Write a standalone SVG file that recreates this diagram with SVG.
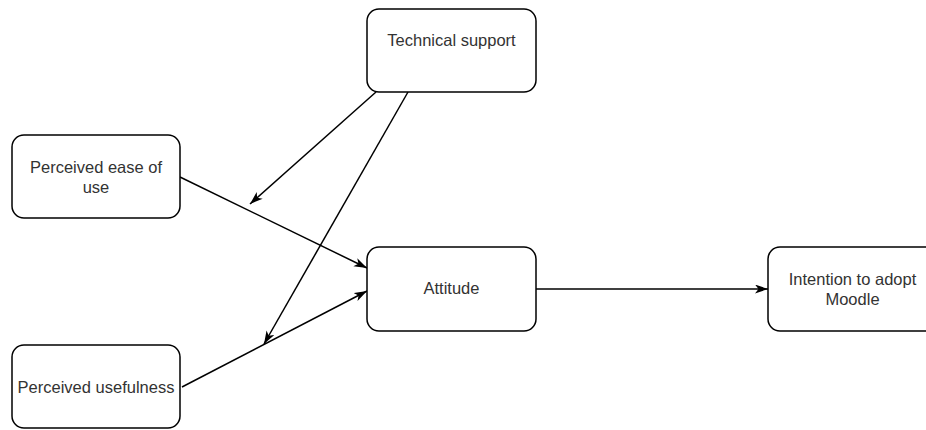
<svg xmlns="http://www.w3.org/2000/svg" width="926" height="430" viewBox="0 0 926 430">
<style>
.box{fill:#ffffff;stroke:#000000;stroke-width:1.5}
.lbl{font-family:"Liberation Sans",Arial,sans-serif;font-size:16.5px;fill:#333333;text-anchor:middle}
.edge{stroke:#000000;stroke-width:1.5;fill:none}
</style>
<defs>
<marker id="arr" markerUnits="userSpaceOnUse" markerWidth="14" markerHeight="10" refX="13" refY="4.5" orient="auto">
<path d="M0,0 L13,4.5 L0,9 L3.5,4.5 z" fill="#000000"/>
</marker>
</defs>
<rect width="926" height="430" fill="#ffffff"/>
<g id="connectors">
<line class="edge" x1="180" y1="177" x2="367" y2="268" marker-end="url(#arr)"/>
<line class="edge" x1="182" y1="387" x2="367" y2="291" marker-end="url(#arr)"/>
<line class="edge" x1="376" y1="92" x2="250" y2="204" marker-end="url(#arr)"/>
<line class="edge" x1="408" y1="92" x2="264" y2="344" marker-end="url(#arr)"/>
<line class="edge" x1="536" y1="289" x2="768" y2="289" marker-end="url(#arr)"/>
</g>
<g id="technical-support">
<rect class="box" x="367" y="9" width="169" height="83" rx="12" ry="12"/>
<text class="lbl" x="451.5" y="46">Technical support</text>
</g>
<g id="perceived-ease-of-use">
<rect class="box" x="12" y="135" width="168" height="83" rx="12" ry="12"/>
<text class="lbl" x="96" y="173">Perceived ease of</text>
<text class="lbl" x="96" y="193">use</text>
</g>
<g id="perceived-usefulness">
<rect class="box" x="12" y="345" width="168" height="83" rx="12" ry="12"/>
<text class="lbl" x="96" y="393">Perceived usefulness</text>
</g>
<g id="attitude">
<rect class="box" x="367" y="247" width="169" height="84" rx="12" ry="12"/>
<text class="lbl" x="451.5" y="294">Attitude</text>
</g>
<g id="intention">
<rect class="box" x="768" y="247" width="169" height="84" rx="12" ry="12"/>
<text class="lbl" x="852.5" y="285">Intention to adopt</text>
<text class="lbl" x="852.5" y="305">Moodle</text>
</g>
</svg>
